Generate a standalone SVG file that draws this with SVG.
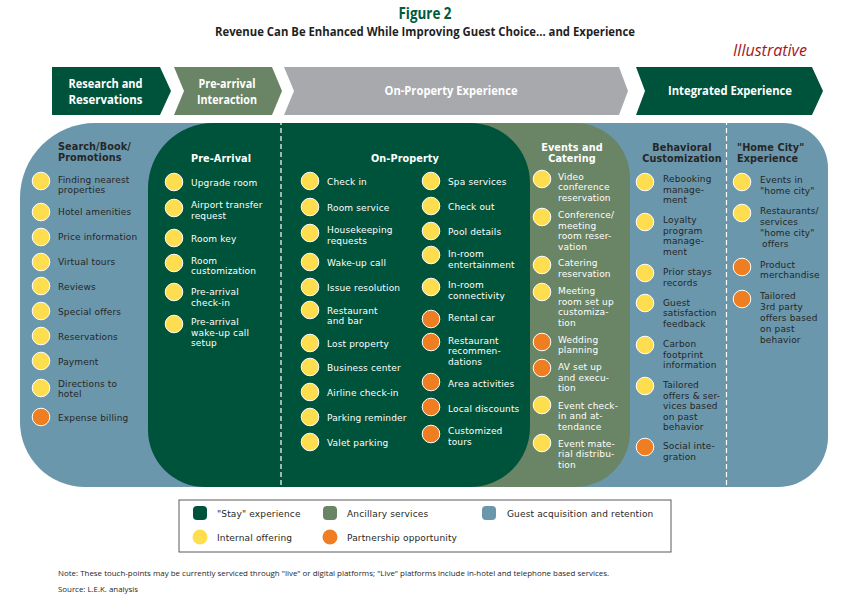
<svg xmlns="http://www.w3.org/2000/svg" width="850" height="600" viewBox="0 0 850 600">
<style>
.t{font-family:'DejaVu Sans','Liberation Sans',sans-serif;font-size:9px;letter-spacing:0.15px}
.w{fill:#ffffff}
.d{fill:#262626}
.h{font-family:'DejaVu Sans','Liberation Sans',sans-serif;font-size:9.7px;font-weight:bold;letter-spacing:0.1px}
.hd{font-family:'Liberation Sans Narrow','Open Sans','Liberation Sans',sans-serif;font-size:12.5px;font-weight:bold;fill:#ffffff}
.y{fill:#FEDE4F;stroke:#ffffff;stroke-width:1}
.o{fill:#EF7D22;stroke:#ffffff;stroke-width:1}
.dash{stroke:#ffffff;stroke-width:1.2;stroke-dasharray:5 3;fill:none}
.note{font-family:'Open Sans','Liberation Sans',sans-serif;font-size:8px;fill:#262626}
</style>
<rect width="850" height="600" fill="#ffffff"/>
<g id="titles">
<text x="425" y="18.5" text-anchor="middle" font-family="'Liberation Sans Narrow','Open Sans',sans-serif" font-size="16.5" font-weight="bold" fill="#005A3C" textLength="53" lengthAdjust="spacingAndGlyphs">Figure 2</text>
<text x="425" y="35.5" text-anchor="middle" font-family="'Liberation Sans Narrow','Open Sans',sans-serif" font-size="11.8" font-weight="bold" fill="#1f1f1f" textLength="420" lengthAdjust="spacingAndGlyphs">Revenue Can Be Enhanced While Improving Guest Choice... and Experience</text>
<text x="807" y="56" text-anchor="end" font-family="'Liberation Sans Narrow','Open Sans',sans-serif" font-size="15.5" font-style="italic" fill="#A3171C" textLength="74" lengthAdjust="spacingAndGlyphs">Illustrative</text>
</g>
<g id="header">
<g id="h1"><polygon points="52,67 160,67 171,91 160,115 52,115" fill="#00533B"/>
<text class="hd" x="105.5" y="87.5" text-anchor="middle" textLength="74" lengthAdjust="spacingAndGlyphs">Research and</text>
<text class="hd" x="105.5" y="103.5" text-anchor="middle" textLength="74" lengthAdjust="spacingAndGlyphs">Reservations</text></g>
<g id="h2"><polygon points="174,67 272,67 282,91 272,115 174,115 184,91" fill="#6A8566"/>
<text class="hd" x="227" y="87.5" text-anchor="middle" textLength="57" lengthAdjust="spacingAndGlyphs">Pre-arrival</text>
<text class="hd" x="227" y="103.5" text-anchor="middle" textLength="60" lengthAdjust="spacingAndGlyphs">Interaction</text></g>
<g id="h3"><polygon points="284,67 619,67 628,91 619,115 284,115 294,91" fill="#A7A9AC"/>
<text class="hd" x="451" y="95" text-anchor="middle" textLength="133" lengthAdjust="spacingAndGlyphs">On-Property Experience</text></g>
<g id="h4"><polygon points="636,67 812,67 823,91 812,115 636,115 645,91" fill="#00533B"/>
<text class="hd" x="730" y="95" text-anchor="middle" textLength="124" lengthAdjust="spacingAndGlyphs">Integrated Experience</text></g>
</g>
<g id="backgrounds">
<path d="M95,123 H783 A45,45 0 0 1 828,168 V437 A50,50 0 0 1 778,487 H85 A65,65 0 0 1 20,422 V198 A75,75 0 0 1 95,123 Z" fill="#6A97AC"/>
<path d="M460,123 H575 A55,55 0 0 1 630,178 V432 A55,55 0 0 1 575,487 H460 Z" fill="#6A8566"/>
<path d="M213,123 H470 A60,60 0 0 1 530,183 V427 A60,60 0 0 1 470,487 H205 A57,57 0 0 1 148,430 V188 A65,65 0 0 1 213,123 Z" fill="#00533B"/>
<line class="dash" x1="281" y1="120" x2="281" y2="487"/>
<line class="dash" x1="726.5" y1="120" x2="726.5" y2="487"/>
</g>
<g id="col-search">
<text class="h d" x="58" y="150">Search/Book/<tspan x="58" dy="11.4">Promotions</tspan></text>
<g id="s1"><circle class="y" cx="41" cy="181" r="8.8"/><text class="t d" x="58" y="182.8">Finding nearest<tspan x="58" dy="10.6">properties</tspan></text></g>
<g id="s2"><circle class="y" cx="41" cy="212" r="8.8"/><text class="t d" x="58" y="215">Hotel amenities</text></g>
<g id="s3"><circle class="y" cx="41" cy="237" r="8.8"/><text class="t d" x="58" y="240">Price information</text></g>
<g id="s4"><circle class="y" cx="41" cy="262" r="8.8"/><text class="t d" x="58" y="265">Virtual tours</text></g>
<g id="s5"><circle class="y" cx="41" cy="286" r="8.8"/><text class="t d" x="58" y="289.5">Reviews</text></g>
<g id="s6"><circle class="y" cx="41" cy="311" r="8.8"/><text class="t d" x="58" y="314.5">Special offers</text></g>
<g id="s7"><circle class="y" cx="41" cy="336" r="8.8"/><text class="t d" x="58" y="339.5">Reservations</text></g>
<g id="s8"><circle class="y" cx="41" cy="361" r="8.8"/><text class="t d" x="58" y="364.5">Payment</text></g>
<g id="s9"><circle class="y" cx="41" cy="388" r="8.8"/><text class="t d" x="58" y="386.5">Directions to<tspan x="58" dy="10.6">hotel</tspan></text></g>
<g id="s10"><circle class="o" cx="41" cy="417" r="8.8"/><text class="t d" x="58" y="420.5">Expense billing</text></g>
</g>
<g id="col-prearrival">
<text class="h w" x="191" y="161.5">Pre-Arrival</text>
<g id="p1"><circle class="y" cx="174" cy="182" r="8.8"/><text class="t w" x="191" y="185.5">Upgrade room</text></g>
<g id="p2"><circle class="y" cx="174" cy="208" r="8.8"/><text class="t w" x="191" y="208">Airport transfer<tspan x="191" dy="10.6">request</tspan></text></g>
<g id="p3"><circle class="y" cx="174" cy="238" r="8.8"/><text class="t w" x="191" y="241.5">Room key</text></g>
<g id="p4"><circle class="y" cx="174" cy="263" r="8.8"/><text class="t w" x="191" y="263.5">Room<tspan x="191" dy="10.6">customization</tspan></text></g>
<g id="p5"><circle class="y" cx="174" cy="292" r="8.8"/><text class="t w" x="191" y="295">Pre-arrival<tspan x="191" dy="10.6">check-in</tspan></text></g>
<g id="p6"><circle class="y" cx="174" cy="324" r="8.8"/><text class="t w" x="191" y="325">Pre-arrival<tspan x="191" dy="10.6">wake-up call</tspan><tspan x="191" dy="10.6">setup</tspan></text></g>
</g>
<g id="col-onproperty">
<text class="h w" x="405" y="162" text-anchor="middle">On-Property</text>
<g id="op1"><circle class="y" cx="310" cy="181" r="8.8"/><text class="t w" x="327" y="185">Check in</text></g>
<g id="op2"><circle class="y" cx="310" cy="207" r="8.8"/><text class="t w" x="327" y="211">Room service</text></g>
<g id="op3"><circle class="y" cx="310" cy="233" r="8.8"/><text class="t w" x="327" y="233">Housekeeping<tspan x="327" dy="10.5">requests</tspan></text></g>
<g id="op4"><circle class="y" cx="310" cy="262" r="8.8"/><text class="t w" x="327" y="266">Wake-up call</text></g>
<g id="op5"><circle class="y" cx="310" cy="287" r="8.8"/><text class="t w" x="327" y="291">Issue resolution</text></g>
<g id="op6"><circle class="y" cx="310" cy="310" r="8.8"/><text class="t w" x="327" y="313.5">Restaurant<tspan x="327" dy="10.5">and bar</tspan></text></g>
<g id="op7"><circle class="y" cx="310" cy="343" r="8.8"/><text class="t w" x="327" y="346.5">Lost property</text></g>
<g id="op8"><circle class="y" cx="310" cy="367" r="8.8"/><text class="t w" x="327" y="371">Business center</text></g>
<g id="op9"><circle class="y" cx="310" cy="392" r="8.8"/><text class="t w" x="327" y="395.5">Airline check-in</text></g>
<g id="op10"><circle class="y" cx="310" cy="417" r="8.8"/><text class="t w" x="327" y="420.5">Parking reminder</text></g>
<g id="op11"><circle class="y" cx="310" cy="442" r="8.8"/><text class="t w" x="327" y="445.5">Valet parking</text></g>
<g id="op12"><circle class="y" cx="431" cy="181" r="8.8"/><text class="t w" x="448" y="184.5">Spa services</text></g>
<g id="op13"><circle class="y" cx="431" cy="206" r="8.8"/><text class="t w" x="448" y="209.5">Check out</text></g>
<g id="op14"><circle class="y" cx="431" cy="231" r="8.8"/><text class="t w" x="448" y="234.5">Pool details</text></g>
<g id="op15"><circle class="y" cx="431" cy="255" r="8.8"/><text class="t w" x="448" y="257">In-room<tspan x="448" dy="10.5">entertainment</tspan></text></g>
<g id="op16"><circle class="y" cx="431" cy="287" r="8.8"/><text class="t w" x="448" y="288">In-room<tspan x="448" dy="10.5">connectivity</tspan></text></g>
<g id="op17"><circle class="o" cx="431" cy="319" r="8.8"/><text class="t w" x="448" y="321">Rental car</text></g>
<g id="op18"><circle class="o" cx="431" cy="342" r="8.8"/><text class="t w" x="448" y="343.5">Restaurant<tspan x="448" dy="10.5">recommen-</tspan><tspan x="448" dy="10.5">dations</tspan></text></g>
<g id="op19"><circle class="o" cx="431" cy="382" r="8.8"/><text class="t w" x="448" y="386.5">Area activities</text></g>
<g id="op20"><circle class="o" cx="431" cy="407" r="8.8"/><text class="t w" x="448" y="411.5">Local discounts</text></g>
<g id="op21"><circle class="o" cx="431" cy="434" r="8.8"/><text class="t w" x="448" y="434">Customized<tspan x="448" dy="10.5">tours</tspan></text></g>
</g>
<g id="col-events">
<text class="h w" x="572" y="150.5" text-anchor="middle">Events and<tspan x="572" dy="11.4">Catering</tspan></text>
<g id="e1"><circle class="y" cx="542" cy="179" r="8.8"/><text class="t w" x="558" y="179.5">Video<tspan x="558" dy="10.5">conference</tspan><tspan x="558" dy="10.5">reservation</tspan></text></g>
<g id="e2"><circle class="y" cx="542" cy="217" r="8.8"/><text class="t w" x="558" y="218">Conference/<tspan x="558" dy="10.5">meeting</tspan><tspan x="558" dy="10.5">room reser-</tspan><tspan x="558" dy="10.5">vation</tspan></text></g>
<g id="e3"><circle class="y" cx="542" cy="265" r="8.8"/><text class="t w" x="558" y="266">Catering<tspan x="558" dy="10.5">reservation</tspan></text></g>
<g id="e4"><circle class="y" cx="542" cy="292" r="8.8"/><text class="t w" x="558" y="294">Meeting<tspan x="558" dy="10.5">room set up</tspan><tspan x="558" dy="10.5">customiza-</tspan><tspan x="558" dy="10.5">tion</tspan></text></g>
<g id="e5"><circle class="o" cx="542" cy="342" r="8.8"/><text class="t w" x="558" y="342.5">Wedding<tspan x="558" dy="10.5">planning</tspan></text></g>
<g id="e6"><circle class="o" cx="542" cy="368" r="8.8"/><text class="t w" x="558" y="370">AV set up<tspan x="558" dy="10.5">and execu-</tspan><tspan x="558" dy="10.5">tion</tspan></text></g>
<g id="e7"><circle class="y" cx="542" cy="405" r="8.8"/><text class="t w" x="558" y="408.5">Event check-<tspan x="558" dy="10.5">in and at-</tspan><tspan x="558" dy="10.5">tendance</tspan></text></g>
<g id="e8"><circle class="y" cx="542" cy="443" r="8.8"/><text class="t w" x="558" y="446.5">Event mate-<tspan x="558" dy="10.5">rial distribu-</tspan><tspan x="558" dy="10.5">tion</tspan></text></g>
</g>
<g id="col-behavioral">
<text class="h d" x="682" y="150.5" text-anchor="middle">Behavioral<tspan x="682" dy="11.4">Customization</tspan></text>
<g id="b1"><circle class="y" cx="645" cy="182" r="8.8"/><text class="t d" x="663" y="182">Rebooking<tspan x="663" dy="10.5">manage-</tspan><tspan x="663" dy="10.5">ment</tspan></text></g>
<g id="b2"><circle class="y" cx="645" cy="222" r="8.8"/><text class="t d" x="663" y="223">Loyalty<tspan x="663" dy="10.5">program</tspan><tspan x="663" dy="10.5">manage-</tspan><tspan x="663" dy="10.5">ment</tspan></text></g>
<g id="b3"><circle class="y" cx="645" cy="273" r="8.8"/><text class="t d" x="663" y="275">Prior stays<tspan x="663" dy="10.5">records</tspan></text></g>
<g id="b4"><circle class="y" cx="645" cy="303" r="8.8"/><text class="t d" x="663" y="305.5">Guest<tspan x="663" dy="10.5">satisfaction</tspan><tspan x="663" dy="10.5">feedback</tspan></text></g>
<g id="b5"><circle class="y" cx="645" cy="345" r="8.8"/><text class="t d" x="663" y="347">Carbon<tspan x="663" dy="10.5">footprint</tspan><tspan x="663" dy="10.5">information</tspan></text></g>
<g id="b6"><circle class="y" cx="645" cy="386" r="8.8"/><text class="t d" x="663" y="388">Tailored<tspan x="663" dy="10.5">offers &amp; ser-</tspan><tspan x="663" dy="10.5">vices based</tspan><tspan x="663" dy="10.5">on past</tspan><tspan x="663" dy="10.5">behavior</tspan></text></g>
<g id="b7"><circle class="o" cx="645" cy="447" r="8.8"/><text class="t d" x="663" y="449">Social inte-<tspan x="663" dy="10.5">gration</tspan></text></g>
</g>
<g id="col-homecity">
<text class="h d" x="737" y="150.5">"Home City"<tspan x="737" dy="11.4">Experience</tspan></text>
<g id="hc1"><circle class="y" cx="742" cy="182" r="8.8"/><text class="t d" x="760" y="182.5">Events in<tspan x="760" dy="11">"home city"</tspan></text></g>
<g id="hc2"><circle class="y" cx="742" cy="213" r="8.8"/><text class="t d" x="760" y="213.5">Restaurants/<tspan x="760" dy="11">services</tspan><tspan x="760" dy="11">"home city"</tspan><tspan x="762" dy="11">offers</tspan></text></g>
<g id="hc3"><circle class="o" cx="742" cy="267" r="8.8"/><text class="t d" x="760" y="267.5">Product<tspan x="760" dy="10.5">merchandise</tspan></text></g>
<g id="hc4"><circle class="o" cx="742" cy="299" r="8.8"/><text class="t d" x="760" y="299">Tailored<tspan x="760" dy="11">3rd party</tspan><tspan x="760" dy="11">offers based</tspan><tspan x="760" dy="11">on past</tspan><tspan x="760" dy="11">behavior</tspan></text></g>
</g>
<g id="connectors"></g>
<g id="legend">
<rect x="179" y="500" width="492" height="52" fill="#ffffff" stroke="#5a5a5a" stroke-width="1"/>
<rect x="193" y="506" width="14" height="14" rx="4" fill="#00533B"/>
<text class="t d" x="217" y="517">"Stay" experience</text>
<rect x="323" y="506" width="14" height="14" rx="4" fill="#6A8566"/>
<text class="t d" x="347" y="517">Ancillary services</text>
<rect x="482" y="506" width="14" height="14" rx="4" fill="#6A97AC"/>
<text class="t d" x="507" y="517">Guest acquisition and retention</text>
<circle cx="200" cy="537" r="7.5" fill="#FEDE4F"/>
<text class="t d" x="217" y="540.5">Internal offering</text>
<circle cx="330" cy="537" r="7.5" fill="#EF7D22"/>
<text class="t d" x="347" y="540.5">Partnership opportunity</text>
</g>
<g id="notes">
<text class="note" x="58" y="575.5" textLength="551" lengthAdjust="spacingAndGlyphs">Note: These touch-points may be currently serviced through "live" or digital platforms; "Live" platforms include in-hotel and telephone based services.</text>
<text class="note" x="58" y="592" textLength="80" lengthAdjust="spacingAndGlyphs">Source: L.E.K. analysis</text>
</g>
</svg>
